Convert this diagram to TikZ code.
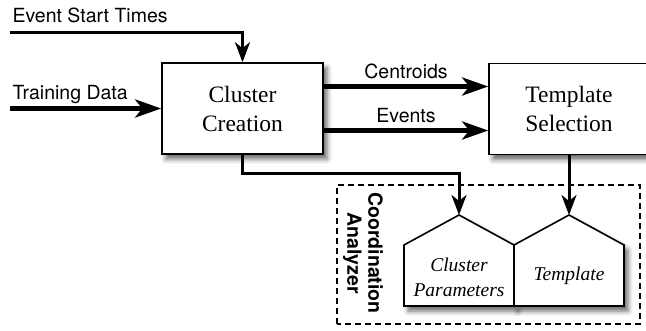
\documentclass[tikz,border=0pt]{standalone}
\usepackage{fontspec}
\setmainfont{Liberation Serif}
\setsansfont{TeX Gyre Heros}
\usetikzlibrary{arrows.meta, calc, shadows.blur}
\definecolor{lineBlack}{HTML}{000000}
\tikzset{
    ShadowStyle/.style={blur shadow={shadow xshift=4pt, shadow yshift=-5pt, shadow blur radius=5pt, shadow opacity=60}},
    ProcBox/.style={draw=lineBlack, line width=1.6pt, fill=white, minimum height=91pt, align=center, font=\fontsize{23.5}{29}\selectfont, ShadowStyle},
    StoreShape/.style={draw=lineBlack, line width=1.6pt, fill=white, line join=miter, ShadowStyle},
    StoreText/.style={align=center, font=\fontsize{19.5}{25}\selectfont\itshape},
    FlowText/.style={font=\sffamily\fontsize{19.5}{23}\selectfont},
    GroupText/.style={font=\sffamily\bfseries\fontsize{19.5}{21}\selectfont, align=center, rotate=-90},
    BigArrow/.style={-{Stealth[length=26pt, width=18pt, inset=7pt]}, line width=4.5pt},
    SmallArrow/.style={-{Stealth[length=20pt, width=15pt, inset=6pt]}, line width=3pt}
}

\begin{document}
\begin{tikzpicture}[x=1pt, y=1pt]
    \useasboundingbox (0,0) rectangle (646,330);

    % analyzer group
    \draw[lineBlack, line width=1.5pt, dash pattern=on 6pt off 4pt] (337,6) rectangle (640,145);
    \node[GroupText] (ca) at (363,77) {Coordination\\Analyzer};

    % stores
    \draw[StoreShape] (404,24) -- (404,85) -- (459,115) coordinate (cpTop) -- (514,85) -- (514,24) -- cycle;
    \draw[StoreShape] (514,24) -- (514,85) -- (569,115) coordinate (tpTop) -- (624,85) -- (624,24) -- cycle;
    \node[StoreText] (cp) at (459,53) {Cluster\\Parameters};
    \node[StoreText] (tp) at (569,54) {Template};

    % processes
    \node[ProcBox, minimum width=161pt] (cc) at (242.5,221.5) {Cluster\\Creation};
    \node[ProcBox, minimum width=160pt] (ts) at (569,221) {Template\\Selection};

    % inputs
    \node[FlowText, anchor=base west] (est) at (9,307) {Event Start Times};
    \coordinate (estIn) at (10,297);
    \draw[SmallArrow] (estIn) -| (cc.north);

    \node[FlowText, anchor=base west] (td) at (9,230) {Training Data};
    \coordinate (tdIn) at (10,221.5);
    \draw[BigArrow] (tdIn) -- (cc.west);

    % flows between processes
    \draw[BigArrow] ([yshift=22pt]cc.east) -- ([yshift=22pt]cc.east -| ts.west)
        node[midway, above=2pt, FlowText] (cen) {Centroids};
    \draw[BigArrow] ([yshift=-22pt]cc.east) -- ([yshift=-22pt]cc.east -| ts.west)
        node[midway, above=2pt, FlowText] (ev) {Events};

    % outputs to stores
    \draw[SmallArrow] (cc.south) |- ([yshift=41pt]cpTop) -- (cpTop);
    \draw[SmallArrow] (ts.south -| tpTop) -- (tpTop);
\end{tikzpicture}
\end{document}
